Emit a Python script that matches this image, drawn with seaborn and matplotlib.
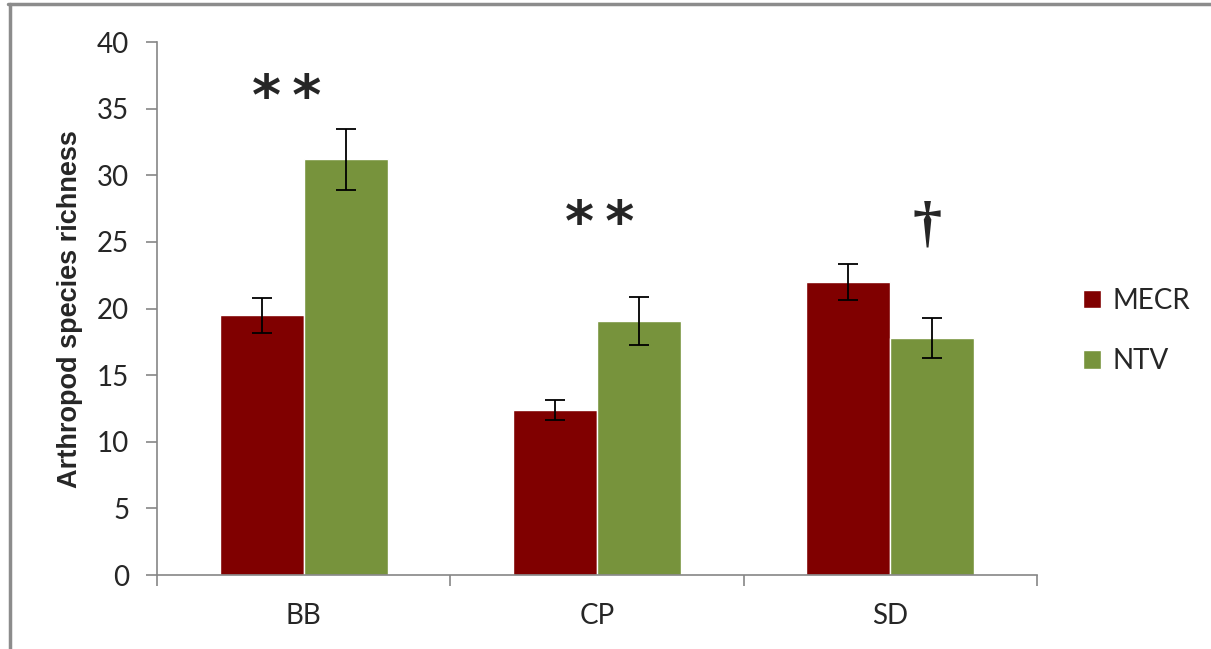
import pandas as pd
import numpy as np
import matplotlib.pyplot as plt
import seaborn as sns
from matplotlib.lines import Line2D
from matplotlib.patches import Patch

# values
sites = ["BB", "CP", "SD"]
treatments = ["MECR", "NTV"]
mecr_mean = [19.5, 12.4, 22.0]
mecr_err = [1.3, 0.75, 1.35]
ntv_mean = [31.2, 19.1, 17.8]
ntv_err = [2.3, 1.8, 1.5]
marks = ["*\u2009*", "*\u2009*", "\u2020"]
colors = {"MECR": "#800000", "NTV": "#77933C"}

df = pd.DataFrame({
    "Site": sites * 2,
    "Treatment": np.repeat(treatments, len(sites)),
    "Richness": mecr_mean + ntv_mean,
    "Err": mecr_err + ntv_err,
})

sns.set_style("white")
plt.rcParams["font.family"] = ["Lato", "DejaVu Sans"]

fig = plt.figure(figsize=(12.11, 6.49), dpi=100)
ax = fig.add_axes([0.1296, 0.114, 0.7266, 0.821])

sns.barplot(data=df, x="Site", y="Richness", hue="Treatment", order=sites,
            hue_order=treatments, palette=colors, width=0.573, gap=0,
            errorbar=None, saturation=1, ax=ax, legend=False)

# error bars at the bar centres
for cont, t in zip(ax.containers, treatments):
    sub = df[df.Treatment == t].set_index("Site").loc[sites]
    xs = [b.get_x() + b.get_width() / 2 for b in cont]
    ax.errorbar(xs, sub.Richness, yerr=sub.Err, fmt="none", ecolor="black",
                elinewidth=1.3, capsize=7, capthick=1.3)

# significance marks
mark_pos = [(-0.057, 35.75), (1.01, 26.25), (2.125, 26.2)]
for m, (x, y) in zip(marks, mark_pos):
    if m.startswith("*"):
        ax.text(x, y, m, ha="center", va="center", fontsize=40,
                family="DejaVu Sans", fontweight="bold")
    else:
        ax.text(x, y, m, ha="center", va="center", fontsize=42,
                family="Liberation Serif", fontweight="bold")

ax.set_ylim(0, 40)
ax.set_xlim(-0.5, 2.5)
ax.set_yticks(range(0, 41, 5))
ax.set_xlabel("")
ax.set_ylabel("Arthropod species richness", fontsize=19.5, fontweight="bold",
              family="Liberation Sans", labelpad=10)

axis_gray = "#868686"
for s in ["top", "right"]:
    ax.spines[s].set_visible(False)
for s in ["left", "bottom"]:
    ax.spines[s].set_color(axis_gray)
    ax.spines[s].set_linewidth(1.2)

ax.set_xticks([-0.5, 0.5, 1.5, 2.5], minor=True)
ax.tick_params(axis="x", which="major", length=0, pad=20, labelsize=20,
               colors="#262626")
ax.tick_params(axis="x", which="minor", length=8, width=1.2, color=axis_gray,
               direction="out", bottom=True)
ax.tick_params(axis="y", length=8, width=1.2, color=axis_gray, direction="out",
               left=True, pad=12, labelsize=20, labelcolor="#262626")

handles = [Patch(facecolor=colors[t], label=t) for t in treatments]
fig.legend(handles=handles, loc="center left", bbox_to_anchor=(0.874, 0.49),
           frameon=False, fontsize=20, handlelength=0.65, handleheight=0.65,
           labelspacing=1.25, handletextpad=0.4)

# outer frame (top and left edges visible)
fig.add_artist(Line2D([8 / 1211, 1], [645 / 649, 645 / 649], color="#8c8c8c",
                      lw=2.5, transform=fig.transFigure))
fig.add_artist(Line2D([9.5 / 1211, 9.5 / 1211], [0, 645 / 649], color="#8c8c8c",
                      lw=2.5, transform=fig.transFigure))

fig.savefig("out.png", dpi=100)
